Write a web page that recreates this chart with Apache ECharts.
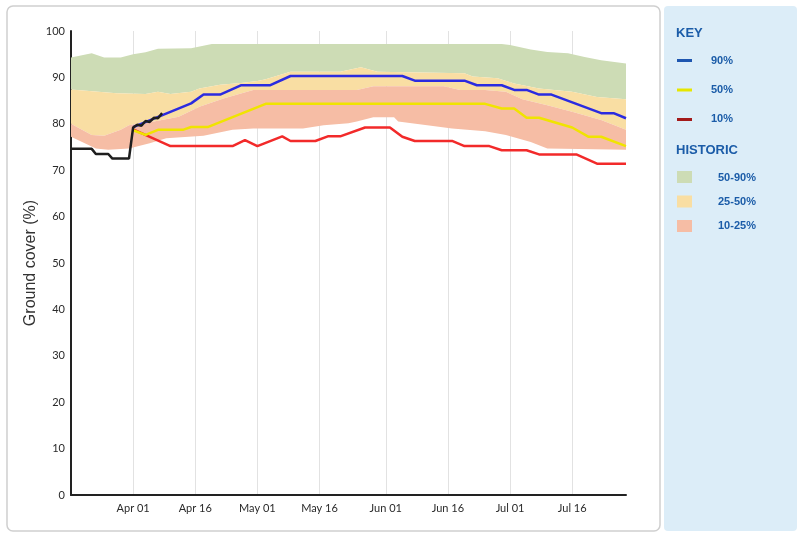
<!DOCTYPE html>
<html><head><meta charset="utf-8">
<script src="https://cdn.jsdelivr.net/npm/echarts@6/dist/echarts.min.js"></script>
<style>html,body{margin:0;padding:0;background:#fff}#c{width:801px;height:535px}</style>
</head><body><div id="c"></div>
<script>
// x positions as 'MM-DD' dates
const tickDates  = ['04-01','04-16','05-01','05-16','06-01','06-16','07-01','07-16'];
const tickLabels = ['Apr 01','Apr 16','May 01','May 16','Jun 01','Jun 16','Jul 01','Jul 16'];
const yTicks = [0,10,20,30,40,50,60,70,80,90,100];

// observed ground cover (black)
const obsDates = ['03-17','03-22','03-23','03-26','03-27','03-31','04-01','04-02','04-03','04-04','04-05','04-06','04-07','04-08'];
const obsVals  = [74.6,74.6,73.5,73.5,72.5,72.5,79.2,79.8,79.6,80.6,80.4,81.3,81.2,82.3];

// forecast 90% (blue)
const p90Dates = ['04-01','04-15','04-18','04-22','04-27','05-04','05-09','06-05','06-08','06-20','06-23','06-29','07-02','07-05','07-08','07-11','07-23','07-26','07-29'];
const p90Vals  = [79.3,84.4,86.3,86.3,88.3,88.3,90.3,90.3,89.3,89.3,88.3,88.3,87.3,87.3,86.3,86.3,82.3,82.3,81.2];

// forecast 50% (yellow)
const p50Dates = ['04-01','04-04','04-07','04-13','04-15','04-19','05-03','06-25','06-29','07-02','07-05','07-08','07-16','07-20','07-23','07-29'];
const p50Vals  = [78.6,77.6,78.7,78.7,79.3,79.3,84.3,84.3,83.3,83.3,81.3,81.3,79.2,77.2,77.2,75.2];

// forecast 10% (red)
const p10Dates = ['04-01','04-10','04-25','04-28','05-01','05-07','05-09','05-15','05-18','05-21','05-27','06-02','06-05','06-08','06-17','06-20','06-26','06-29','07-05','07-08','07-17','07-22','07-29'];
const p10Vals  = [78.8,75.2,75.2,76.5,75.2,77.3,76.3,76.3,77.3,77.3,79.2,79.2,77.2,76.3,76.3,75.2,75.2,74.3,74.3,73.4,73.4,71.4,71.4];

// historic percentiles (band edges)
const h90Dates = ['03-17','03-22','03-25','03-29','04-01','04-04','04-07','04-15','04-20','06-29','07-01','07-06','07-10','07-15','07-19','07-23','07-29'];
const h90Vals  = [94.3,95.2,94.3,94.3,95.0,95.4,96.2,96.3,97.2,97.2,97.0,96.0,95.5,95.2,94.4,93.7,93.0];
const h50Dates = ['03-17','03-28','04-04','04-07','04-10','04-15','04-17','04-22','04-27','05-01','05-03','05-09','05-21','05-26','05-30','06-20','06-22','06-28','07-02','07-08','07-16','07-22','07-29'];
const h50Vals  = [87.4,86.6,86.4,86.9,86.4,86.9,87.6,88.4,88.8,89.2,89.6,91.2,91.2,92.2,91.2,90.9,90.2,89.8,88.7,87.6,86.9,85.8,85.3];
const h25Dates = ['03-17','03-22','03-25','03-29','03-31','04-06','04-12','04-17','04-23','04-30','05-25','05-29','06-15','06-19','06-25','06-30','07-04','07-10','07-16','07-23','07-29'];
const h25Vals  = [80.0,77.6,77.4,78.7,79.7,80.5,81.5,83.7,85.5,87.3,87.3,88.1,88.1,87.3,87.3,86.9,85.3,84.0,82.6,80.8,78.7];
const h10Dates = ['03-17','03-23','03-26','03-31','04-05','04-09','04-18','04-25','04-30','05-12','05-17','05-23','05-25','05-29','06-03','06-04','06-11','06-17','06-25','06-30','07-06','07-10','07-29'];
const h10Vals  = [77.2,74.7,74.4,74.7,75.8,76.9,77.4,78.7,79.0,79.0,79.7,80.1,80.5,81.4,81.4,80.5,79.7,79.0,78.4,77.6,76.1,74.7,74.4];

function dayOf(s){ const p=s.split('-').map(Number); return (Date.UTC(2021,p[0]-1,p[1])-Date.UTC(2021,3,1))/864e5; }
function pts(ds, vs){ return ds.map((d,i)=>[dayOf(d), vs[i]]); }
const tickDays = tickDates.map(dayOf);

function band(name, upD, upV, loD, loV, color){
  const up = pts(upD, upV), lo = pts(loD, loV);
  return {
    type:'custom', name, silent:true, clip:true, z:1,
    data:[[up[0][0], up[0][1]]],
    renderItem:(params, api)=>{
      const p = [];
      up.forEach(q=>p.push(api.coord(q)));
      for(let i=lo.length-1;i>=0;i--) p.push(api.coord(lo[i]));
      return {type:'polygon', shape:{points:p}, style:{fill:color}};
    }
  };
}
function line(name, d, v, color, z){
  return {type:'line', name, data:pts(d,v), symbol:'none', z, silent:true,
    lineStyle:{color, width:2.5}, itemStyle:{color}};
}

const KEYC = '#1b5ca8';
const lf = '"Liberation Sans", Arial, sans-serif';
const graphic = [
  {type:'rect', z:-10, shape:{x:7,y:6,width:653,height:525,r:6}, style:{fill:'#fff', stroke:'#cfcfcf', lineWidth:1.5}},
  {type:'rect', z:-10, shape:{x:664,y:6,width:133,height:525,r:4}, style:{fill:'#dcedf8'}},
  {type:'text', style:{text:'KEY', x:676, y:33, fill:KEYC, font:'bold 13px '+lf, verticalAlign:'middle'}},
  {type:'rect', shape:{x:677,y:59,width:15,height:3}, style:{fill:'#1e56b0'}},
  {type:'text', style:{text:'90%', x:711, y:61, fill:KEYC, font:'bold 11px '+lf, verticalAlign:'middle'}},
  {type:'rect', shape:{x:677,y:88.5,width:15,height:3}, style:{fill:'#e6e600'}},
  {type:'text', style:{text:'50%', x:711, y:90, fill:KEYC, font:'bold 11px '+lf, verticalAlign:'middle'}},
  {type:'rect', shape:{x:677,y:118,width:15,height:3}, style:{fill:'#a31a1a'}},
  {type:'text', style:{text:'10%', x:711, y:119, fill:KEYC, font:'bold 11px '+lf, verticalAlign:'middle'}},
  {type:'text', style:{text:'HISTORIC', x:676, y:150, fill:KEYC, font:'bold 13px '+lf, verticalAlign:'middle'}},
  {type:'rect', shape:{x:677,y:171,width:15,height:12}, style:{fill:'#cddcb5'}},
  {type:'text', style:{text:'50-90%', x:718, y:178, fill:KEYC, font:'bold 11px '+lf, verticalAlign:'middle'}},
  {type:'rect', shape:{x:677,y:195.5,width:15,height:12}, style:{fill:'#f9dea3'}},
  {type:'text', style:{text:'25-50%', x:718, y:202, fill:KEYC, font:'bold 11px '+lf, verticalAlign:'middle'}},
  {type:'rect', shape:{x:677,y:220,width:15,height:12}, style:{fill:'#f6bda5'}},
  {type:'text', style:{text:'10-25%', x:718, y:226, fill:KEYC, font:'bold 11px '+lf, verticalAlign:'middle'}}
];

const chart = echarts.init(document.getElementById('c'));
chart.setOption({
  animation:false,
  grid:{left:71, right:175, top:31, bottom:40},
  graphic,
  xAxis:{type:'value', min:dayOf('03-17'), max:dayOf('07-29'),
    axisLine:{show:true, onZero:false, lineStyle:{color:'#222', width:2}},
    axisTick:{show:false, customValues:tickDays},
    axisLabel:{customValues:tickDays, formatter:v=>{const i=tickDays.indexOf(v);return i>=0?tickLabels[i]:'';},
      color:'#2a2a2a', fontFamily:'Lato', fontSize:11, margin:8},
    splitLine:{show:true, lineStyle:{color:'#e2e2e2', width:1}}
  },
  yAxis:{type:'value', min:yTicks[0], max:yTicks[yTicks.length-1], interval:10,
    axisLine:{show:true, onZero:false, lineStyle:{color:'#222', width:2}},
    axisTick:{show:false}, splitLine:{show:false},
    axisLabel:{color:'#2a2a2a', fontFamily:'Lato', fontSize:11, margin:6},
    name:'Ground cover (%)', nameLocation:'middle', nameGap:32, nameMoveOverlap:false,
    nameTextStyle:{fontSize:16, color:'#333', fontFamily:'Liberation Sans'}
  },
  series:[
    band('Historic 50-90%', h90Dates, h90Vals, h50Dates, h50Vals, '#cddcb5'),
    band('Historic 25-50%', h50Dates, h50Vals, h25Dates, h25Vals, '#f9dea3'),
    band('Historic 10-25%', h25Dates, h25Vals, h10Dates, h10Vals, '#f6bda5'),
    line('10%', p10Dates, p10Vals, '#f22a2a', 3),
    line('50%', p50Dates, p50Vals, '#f0e400', 4),
    line('90%', p90Dates, p90Vals, '#2b2be0', 5),
    line('Observed', obsDates, obsVals, '#1e1e1e', 6)
  ]
});
</script></body></html>
